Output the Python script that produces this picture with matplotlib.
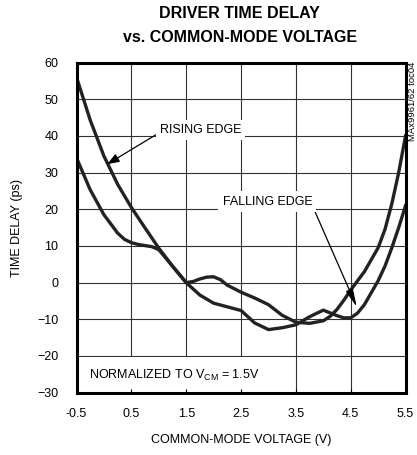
import numpy as np
import matplotlib
matplotlib.use("Agg")
import matplotlib.pyplot as plt
from matplotlib.patches import Rectangle

plt.rcParams['font.family'] = ['Liberation Sans', 'DejaVu Sans']

# common-mode voltage (V) and time delay (ps), normalized to VCM = 1.5V
rise_v = [-0.5, -0.25, 0.0, 0.25, 0.5, 0.75, 1.0, 1.25, 1.5, 1.625, 1.75, 1.875,
          2.0, 2.125, 2.25, 2.5, 2.75, 3.0, 3.25, 3.5, 3.75, 4.0, 4.125, 4.25,
          4.375, 4.5, 4.75, 5.0, 5.125, 5.25, 5.375, 5.5]
rising = [56, 44.3, 34.5, 26.8, 20.5, 14.9, 9.4, 4.5, 0, 0.3, 1.0, 1.5,
          1.6, 0.8, -0.7, -2.6, -4.2, -6.0, -8.9, -10.8, -11.1, -10.4, -9.2, -7.3,
          -4.8, -2.0, 3.0, 9.5, 14.5, 21.5, 30, 40]

fall_v = [-0.5, -0.25, 0.0, 0.25, 0.375, 0.5, 0.625, 0.75, 0.875, 1.0, 1.25, 1.5,
          1.75, 2.0, 2.25, 2.5, 2.75, 3.0, 3.25, 3.5, 3.75, 4.0, 4.25, 4.375,
          4.5, 4.625, 4.75, 5.0, 5.125, 5.25, 5.375, 5.5]
falling = [34, 25.3, 18.5, 13.5, 11.8, 10.9, 10.4, 10.1, 9.8, 9.0, 4.5, 0,
           -3.4, -5.6, -6.6, -7.6, -11.0, -12.8, -12.3, -11.5, -9.3, -7.5, -9.0, -9.6,
           -9.6, -8.3, -6.0, 0.5, 4.5, 9.5, 15, 21]

xticks = [-0.5, 0.5, 1.5, 2.5, 3.5, 4.5, 5.5]
xticklabels = ['-0.5', '0.5', '1.5', '2.5', '3.5', '4.5', '5.5']
yticks = [-30, -20, -10, 0, 10, 20, 30, 40, 50, 60]

fig = plt.figure(figsize=(4.17, 4.55), dpi=100)
ax = fig.add_axes([0.1835, 0.137, 0.789, 0.7255])
ax.set_xlim(-0.5, 5.5)
ax.set_ylim(-30, 60)

# grid (the lower-left grid lines are hidden behind the note)
for x in xticks[1:-1]:
    ax.plot([x, x], [-30, 60], color='#333333', lw=0.8, zorder=1)
for y in yticks[1:-1]:
    ax.plot([-0.5, 5.5], [y, y], color='#333333', lw=0.8, zorder=1)
ax.add_patch(Rectangle((-0.5, -30), 3.75, 9.75, facecolor='white',
                       edgecolor='none', zorder=1.5))

ax.plot(rise_v, rising, color='#222222', lw=2.4, zorder=3, solid_joinstyle='round')
ax.plot(fall_v, falling, color='#222222', lw=2.4, zorder=3, solid_joinstyle='round')

ax.set_xticks(xticks)
ax.set_xticklabels(xticklabels)
ax.set_yticks(yticks)
ax.tick_params(direction='in', length=3, width=0.8, labelsize=9, pad=11)
ax.tick_params(axis='y', length=0, pad=13)
for s in ax.spines.values():
    s.set_linewidth(2.2)
    s.set_zorder(4)

ax.set_xlabel('COMMON-MODE VOLTAGE (V)', fontsize=9, labelpad=10)
ax.set_ylabel('TIME DELAY (ps)', fontsize=9, labelpad=10)
fig.text(0.575, 0.970, 'DRIVER TIME DELAY', ha='center', va='center',
         fontsize=11.5, fontweight='bold')
fig.text(0.575, 0.918, 'vs. COMMON-MODE VOLTAGE', ha='center', va='center',
         fontsize=11.5, fontweight='bold')

box = dict(facecolor='white', edgecolor='none', pad=3)
ax.annotate('RISING EDGE', xy=(0.06, 32.3), xytext=(1.76, 41.6),
            ha='center', va='center', fontsize=9, bbox=box, zorder=5,
            arrowprops=dict(arrowstyle='-|>,head_length=0.8,head_width=0.3',
                            color='black', lw=0.9, shrinkA=0, shrinkB=0,
                            relpos=(0, 0.3)))
ax.annotate('FALLING EDGE', xy=(4.61, -6.6), xytext=(2.98, 22.1),
            ha='center', va='center', fontsize=9, bbox=box, zorder=5,
            arrowprops=dict(arrowstyle='-|>,head_length=1.2,head_width=0.25',
                            color='black', lw=0.9, shrinkA=0, shrinkB=0,
                            relpos=(1, 0.2)))
ax.text(-0.27, -25.2, r'NORMALIZED TO V$_{\mathregular{CM}}$ = 1.5V',
        ha='left', va='center', fontsize=9, zorder=5)

fig.text(0.979, 0.864, 'MAx9961/62 toc04', rotation=90, ha='left', va='top',
         fontsize=6.8)

fig.savefig('out.png', dpi=100)
